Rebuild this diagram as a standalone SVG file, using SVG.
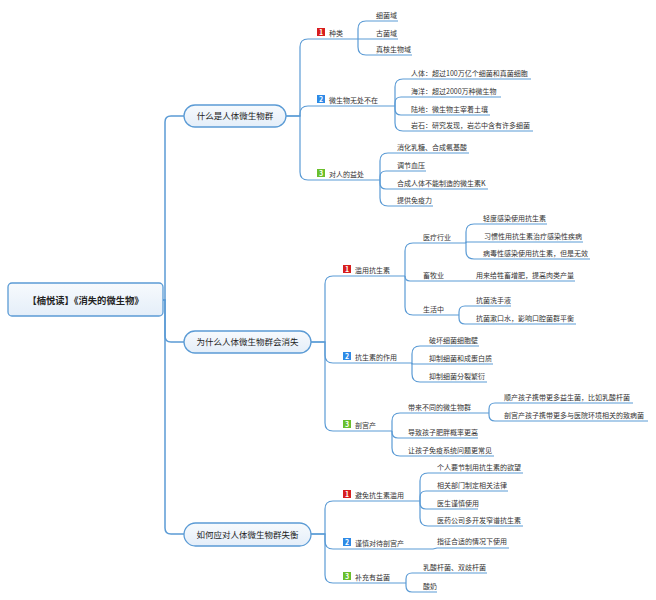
<svg xmlns="http://www.w3.org/2000/svg" width="656" height="600" viewBox="0 0 656 600">
<style>
text{font-family:"Noto Sans CJK SC","Noto Sans",sans-serif;fill:#333}
.lf{font-size:7px}
.l1{font-size:8.5px;text-anchor:middle;fill:#222}
.rt{font-size:9.3px;font-weight:bold;text-anchor:middle;fill:#222}
.ic{font-size:7px;font-weight:bold;fill:#fff;text-anchor:middle}
.c{fill:none;stroke:#5b9bd5;stroke-width:1.2}
.t{fill:none;stroke:#5b9bd5;stroke-width:1.5}
.bx{fill:url(#g);stroke:#5b9bd5;stroke-width:1.3}
.r{fill:#d81e1e}.b{fill:#2e8ae6}.gr{fill:#6abf2c}
</style>
<defs>
<linearGradient id="g" x1="0" y1="0" x2="0" y2="1"><stop offset="0" stop-color="#f7fafd"/><stop offset="1" stop-color="#e4eef9"/></linearGradient>
</defs>
<rect width="656" height="600" fill="#fff"/>
<g id="connectors">
<path class="t" d="M163 300 H165 V122 Q165 116 171 116 H184"/>
<path class="t" d="M163 300 H165 V336 Q165 342 171 342 H184"/>
<path class="t" d="M163 300 H165 V528 Q165 534 171 534 H184"/>
<path class="c" d="M286 116 H300 V47 Q300 39 308 39 H358"/>
<path class="c" d="M286 116 H300 V114 Q300 106 308 106 H395"/>
<path class="c" d="M286 116 H300 V172 Q300 180 308 180 H380"/>
<path class="c" d="M358 39 V29 Q358 21 366 21 H398"/>
<path class="c" d="M358 39 H398"/>
<path class="c" d="M358 39 V47 Q358 55 366 55 H412"/>
<path class="c" d="M395 106 V87 Q395 79 403 79 H531"/>
<path class="c" d="M395 106 V103 Q395 97 401 97 H501"/>
<path class="c" d="M395 106 V109 Q395 115 401 115 H490"/>
<path class="c" d="M395 106 V123 Q395 131 403 131 H533"/>
<path class="c" d="M380 180 V161 Q380 153 388 153 H469"/>
<path class="c" d="M380 180 V177 Q380 171 386 171 H426"/>
<path class="c" d="M380 180 V183 Q380 189 386 189 H488"/>
<path class="c" d="M380 180 V198 Q380 206 388 206 H433"/>
<path class="c" d="M311 342 H325 V284 Q325 276 333 276 H405"/>
<path class="c" d="M311 342 H325 V355 Q325 363 333 363 H412"/>
<path class="c" d="M311 342 H325 V423 Q325 431 333 431 H392"/>
<path class="c" d="M405 276 V251 Q405 243 413 243 H466"/>
<path class="c" d="M405 276 Q405 281 410 281 H575"/>
<path class="c" d="M405 276 V307 Q405 315 413 315 H459"/>
<path class="c" d="M466 243 V232 Q466 224 474 224 H547"/>
<path class="c" d="M466 243 V242 H583"/>
<path class="c" d="M466 243 V251 Q466 259 474 259 H590"/>
<path class="c" d="M459 315 V312 Q459 306 465 306 H511"/>
<path class="c" d="M459 315 V318 Q459 324 465 324 H576"/>
<path class="c" d="M412 363 V354 Q412 346 420 346 H479"/>
<path class="c" d="M412 363 V364 H493"/>
<path class="c" d="M412 363 V374 Q412 382 420 382 H487"/>
<path class="c" d="M392 431 V421 Q392 413 400 413 H489"/>
<path class="c" d="M392 431 V432 Q392 438 398 438 H478"/>
<path class="c" d="M392 431 V448 Q392 456 400 456 H494"/>
<path class="c" d="M489 413 V409 Q489 403 495 403 H633"/>
<path class="c" d="M489 413 V415 Q489 421 495 421 H648"/>
<path class="c" d="M311 534 H325 V509 Q325 501 333 501 H420"/>
<path class="c" d="M311 534 H325 V541 Q325 549 333 549 H433 L437 548 H509"/>
<path class="c" d="M311 534 H325 V575 Q325 583 333 583 H406"/>
<path class="c" d="M420 501 V481 Q420 473 428 473 H523"/>
<path class="c" d="M420 501 V497 Q420 491 426 491 H508"/>
<path class="c" d="M420 501 V503 Q420 509 426 509 H478"/>
<path class="c" d="M420 501 V518 Q420 526 428 526 H523"/>
<path class="c" d="M406 583 V579 Q406 573 412 573 H487"/>
<path class="c" d="M406 583 V586 Q406 592 412 592 H437"/>
</g>
<g id="root"><rect class="bx" x="8" y="283" width="155" height="33" rx="4"/><text class="rt" x="85.5" y="303.5">【楠悦读】《消失的微生物》</text></g>
<g id="n1"><rect class="bx" x="184" y="105" width="102" height="22" rx="11"/><text class="l1" x="235" y="119.3">什么是人体微生物群</text></g>
<g id="n2"><rect class="bx" x="184" y="331" width="127" height="22" rx="11"/><text class="l1" x="247.5" y="345.3">为什么人体微生物群会消失</text></g>
<g id="n3"><rect class="bx" x="184" y="523" width="127" height="23" rx="11.5"/><text class="l1" x="247.5" y="537.5">如何应对人体微生物群失衡</text></g>

<g id="n1-1"><rect class="r" x="317" y="28" width="8" height="8"/><text class="ic" x="321" y="34.6">1</text><text class="lf" x="329" y="35.5">种类</text></g>
<g id="n1-1-1"><text class="lf" x="376" y="17.5">细菌域</text></g>
<g id="n1-1-2"><text class="lf" x="376" y="35.5">古菌域</text></g>
<g id="n1-1-3"><text class="lf" x="376" y="51.5">真核生物域</text></g>
<g id="n1-2"><rect class="b" x="317" y="95" width="8" height="8"/><text class="ic" x="321" y="101.6">2</text><text class="lf" x="329" y="102.5">微生物无处不在</text></g>
<g id="n1-2-1"><text class="lf" x="411" y="75.5">人体：超过100万亿个细菌和真菌细胞</text></g>
<g id="n1-2-2"><text class="lf" x="411" y="93.5">海洋：超过2000万种微生物</text></g>
<g id="n1-2-3"><text class="lf" x="411" y="111.5">陆地：微生物主宰着土壤</text></g>
<g id="n1-2-4"><text class="lf" x="411" y="127.5">岩石：研究发现，岩芯中含有许多细菌</text></g>
<g id="n1-3"><rect class="gr" x="317" y="169" width="8" height="8"/><text class="ic" x="321" y="175.6">3</text><text class="lf" x="329" y="176.5">对人的益处</text></g>
<g id="n1-3-1"><text class="lf" x="397" y="149.5">消化乳糖、合成氨基酸</text></g>
<g id="n1-3-2"><text class="lf" x="397" y="167.5">调节血压</text></g>
<g id="n1-3-3"><text class="lf" x="397" y="185.5">合成人体不能制造的微生素K</text></g>
<g id="n1-3-4"><text class="lf" x="397" y="202.5">提供免疫力</text></g>

<g id="n2-1"><rect class="r" x="343" y="265" width="8" height="8"/><text class="ic" x="347" y="271.6">1</text><text class="lf" x="355" y="272.5">滥用抗生素</text></g>
<g id="n2-1-1"><text class="lf" x="423" y="239.5">医疗行业</text></g>
<g id="n2-1-1-1"><text class="lf" x="483" y="220.5">轻度感染使用抗生素</text></g>
<g id="n2-1-1-2"><text class="lf" x="484" y="238.5">习惯性用抗生素治疗感染性疾病</text></g>
<g id="n2-1-1-3"><text class="lf" x="483" y="255.5">病毒性感染使用抗生素，但是无效</text></g>
<g id="n2-1-2"><text class="lf" x="423" y="277.5">畜牧业</text></g>
<g id="n2-1-2-1"><text class="lf" x="476" y="277.5">用来给牲畜增肥，提高肉类产量</text></g>
<g id="n2-1-3"><text class="lf" x="423" y="311.5">生活中</text></g>
<g id="n2-1-3-1"><text class="lf" x="476" y="302.5">抗菌洗手液</text></g>
<g id="n2-1-3-2"><text class="lf" x="476" y="320.5">抗菌漱口水，影响口腔菌群平衡</text></g>
<g id="n2-2"><rect class="b" x="343" y="352" width="8" height="8"/><text class="ic" x="347" y="358.6">2</text><text class="lf" x="355" y="359.5">抗生素的作用</text></g>
<g id="n2-2-1"><text class="lf" x="429" y="342.5">破坏细菌细胞壁</text></g>
<g id="n2-2-2"><text class="lf" x="429" y="360.5">抑制细菌和成蛋白质</text></g>
<g id="n2-2-3"><text class="lf" x="429" y="378.5">抑制细菌分裂繁衍</text></g>
<g id="n2-3"><rect class="gr" x="343" y="420" width="8" height="8"/><text class="ic" x="347" y="426.6">3</text><text class="lf" x="355" y="427.5">剖宫产</text></g>
<g id="n2-3-1"><text class="lf" x="408" y="409.5">带来不同的微生物群</text></g>
<g id="n2-3-1-1"><text class="lf" x="504" y="399.5">顺产孩子携带更多益生菌，比如乳酸杆菌</text></g>
<g id="n2-3-1-2"><text class="lf" x="504" y="417.5">剖宫产孩子携带更多与医院环境相关的致病菌</text></g>
<g id="n2-3-2"><text class="lf" x="408" y="434.5">导致孩子肥胖概率更高</text></g>
<g id="n2-3-3"><text class="lf" x="408" y="452.5">让孩子免疫系统问题更常见</text></g>

<g id="n3-1"><rect class="r" x="343" y="490" width="8" height="8"/><text class="ic" x="347" y="496.6">1</text><text class="lf" x="355" y="497.5">避免抗生素滥用</text></g>
<g id="n3-1-1"><text class="lf" x="437" y="469.5">个人要节制用抗生素的欲望</text></g>
<g id="n3-1-2"><text class="lf" x="437" y="487.5">相关部门制定相关法律</text></g>
<g id="n3-1-3"><text class="lf" x="437" y="505.5">医生谨慎使用</text></g>
<g id="n3-1-4"><text class="lf" x="437" y="522.5">医药公司多开发窄谱抗生素</text></g>
<g id="n3-2"><rect class="b" x="343" y="538" width="8" height="8"/><text class="ic" x="347" y="544.6">2</text><text class="lf" x="355" y="545.5">谨慎对待剖宫产</text></g>
<g id="n3-2-1"><text class="lf" x="437" y="544">指征合适的情况下使用</text></g>
<g id="n3-3"><rect class="gr" x="343" y="572" width="8" height="8"/><text class="ic" x="347" y="578.6">3</text><text class="lf" x="355" y="579.5">补充有益菌</text></g>
<g id="n3-3-1"><text class="lf" x="423" y="569.5">乳酸杆菌、双歧杆菌</text></g>
<g id="n3-3-2"><text class="lf" x="423" y="588.5">酸奶</text></g>
</svg>
